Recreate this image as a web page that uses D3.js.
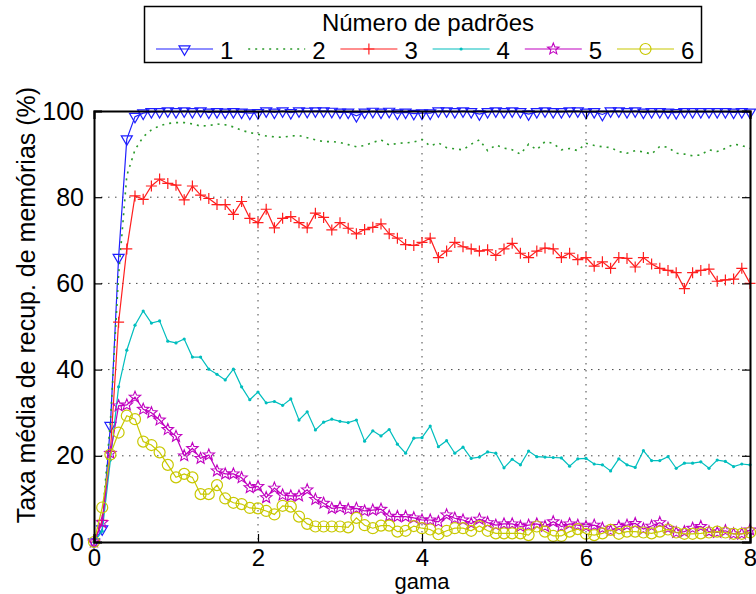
<!DOCTYPE html>
<html>
<head>
<meta charset="utf-8">
<title>Taxa média de recuperação</title>
<script src="https://d3js.org/d3.v7.min.js"></script>
<style>
  body { margin: 0; background: #fff; }
  svg text { font-family: "Liberation Sans", Arial, sans-serif; fill: #000; }
</style>
</head>
<body>
<svg id="chart" width="756" height="594"></svg>
<script>
// gama: 0 to 8 in steps of 0.1
var gama = d3.range(81).map(function(i) { return Math.round(i) / 10; });

var padroes1 = [0, 3, 27, 66, 93.5, 98.7, 99.5, 99.8, 99.8, 100, 99.8, 100, 99.8, 100, 99.7, 99.8, 99.7, 99.8, 99.7, 99.5,
  99.6, 100, 99.7, 100, 99.6, 100, 99.9, 100, 100, 99.9, 99.7, 99.7, 98.9, 99.7, 99.9, 99.7, 99.9, 99.5, 99.7, 99.4,
  99.5, 99.5, 100, 100, 99.8, 100, 99.8, 99.3, 99.8, 100, 99.8, 100, 99.8, 99.3, 99.8, 100, 99.8, 99.8, 100, 100,
  99.7, 99.8, 99.2, 100, 100, 99.8, 100, 99.7, 99.8, 99.8, 99.7, 99.6, 99.8, 99.8, 99.8, 99.8, 99.8, 99.8, 99.7, 99.8, 99.7];
var padroes2 = [0, 5, 28, 62, 85, 91, 94, 95.6, 96.6, 97.1, 97.3, 97.3, 97, 96.5, 96.6, 97, 96.8, 96.3, 95.5, 95,
  94.6, 94.2, 94, 93.9, 94.2, 94.3, 93.8, 93.3, 92.9, 92.9, 92.7, 92.2, 91.7, 92, 92.7, 93.3, 92.1, 92.5, 92.6, 92.8,
  93.4, 91.9, 92.6, 91.5, 91.2, 91, 92.3, 93.3, 90.8, 92.1, 91.4, 91, 90, 92.3, 91, 92.9, 92.5, 91, 91.3, 90.8,
  92.5, 92, 91.7, 91.5, 90.6, 90.2, 90.8, 90.5, 90, 91.8, 91.6, 90.2, 90, 89.6, 89.8, 91, 90.6, 91.3, 92.3, 92, 91.3];
var padroes3 = [0, 5, 21, 51, 68, 80.3, 79.5, 82.6, 84.2, 83.2, 82.8, 79.4, 82.6, 80.5, 79.7, 78.3, 78.3, 76, 79, 75.1,
  74.1, 77.2, 72.9, 75.1, 75.5, 74.1, 72.9, 76.3, 75.3, 72.4, 74.1, 72.8, 71.5, 72.5, 73, 73.8, 71.5, 70.5, 69, 68.8,
  69.5, 70.5, 66, 67.5, 69.5, 68.5, 68, 67.5, 67.8, 66.5, 68, 69.3, 67, 66, 67.5, 68.2, 68, 66, 67, 65.5,
  66, 64, 65, 63.5, 66, 65.8, 63.8, 66, 64.5, 63.5, 63, 62.5, 58.8, 62.5, 63, 63.3, 60.5, 60.8, 61, 63.5, 60];
var padroes4 = [0, 2.5, 19, 36, 44.5, 50.3, 53.6, 50.8, 51.3, 46.6, 46.2, 47.1, 42.9, 42.9, 40.1, 38.9, 37.6, 40.1, 36, 33,
  34.8, 32.3, 32.6, 31.7, 33.2, 28.3, 30.2, 26, 27.8, 28.5, 28, 27.7, 28.3, 23.4, 25.8, 24.6, 26.1, 22.7, 20.6, 24.1,
  24.2, 26.9, 22.1, 23.5, 20.6, 22, 19.4, 19.7, 20.9, 20.6, 17.2, 19.2, 17.9, 21.1, 19.8, 19.7, 19.6, 19.5, 17.6, 19.3,
  19.4, 18.1, 17.9, 16.5, 19.3, 17.9, 17.3, 21.2, 18.9, 18.9, 19.8, 17.1, 18.3, 18.3, 18.6, 17.1, 19, 18.7, 17.5, 18.1, 17.9];
var padroes5 = [0, 4.5, 20.6, 31.6, 31.8, 33.6, 30.8, 30, 28.3, 26.1, 24.5, 20, 21.7, 19.4, 20.2, 16.5, 15.8, 15.8, 14.9, 12.6,
  12.9, 10.3, 12.5, 10.9, 10.7, 10.7, 12.1, 9.9, 9, 7.8, 8, 7.6, 7.8, 7.2, 7.4, 7.6, 6, 5.9, 5.9, 5.6,
  5.1, 5.1, 4.7, 6.3, 5.5, 5.1, 4.3, 5.3, 4.5, 3.9, 4.2, 4.2, 3.6, 3.9, 4.2, 3.6, 4.7, 3.6, 4.2, 3.9,
  3.6, 3.9, 3.2, 2.6, 3.6, 3.9, 4.3, 3, 3.7, 4.5, 3.2, 2.2, 2.4, 3.2, 3.6, 2.4, 2.2, 2.6, 1.9, 1.9, 2.8];
var padroes6 = [0, 8, 20.3, 25.4, 29.3, 28.5, 23.3, 22.5, 20.8, 17.9, 15, 15.8, 15, 11.1, 11.1, 13.2, 10.1, 9.1, 8.8, 7.9,
  7.8, 7.2, 6.4, 8.4, 8.2, 5.9, 4.2, 3.6, 3.6, 3.6, 3.6, 3.4, 5.6, 3.9, 3.2, 3.8, 3.8, 2.4, 2.6, 3.7,
  3.2, 2.9, 1.8, 2.6, 3.2, 3.2, 2.6, 3.7, 2.6, 2, 2, 2, 2, 1.6, 3.6, 2.4, 1.4, 1.4, 2.4, 3,
  1.9, 1.6, 2, 2.8, 1.9, 2.4, 2.4, 2.2, 2, 2.4, 2.9, 2.2, 1.9, 1.9, 2, 2.2, 2.4, 2.2, 1.9, 1.9, 2.2];

var legendLabels = ["1", "2", "3", "4", "5", "6"];
var xTicks = [0, 2, 4, 6, 8];
var yTicks = [0, 20, 40, 60, 80, 100];

var series = [
  { name: "1", values: padroes1, color: "#1f1fff", marker: "tri", dash: null },
  { name: "2", values: padroes2, color: "#2a9a2a", marker: null, dash: "2,5" },
  { name: "3", values: padroes3, color: "#ff1f1f", marker: "plus", dash: null },
  { name: "4", values: padroes4, color: "#00bebe", marker: "dot", dash: null },
  { name: "5", values: padroes5, color: "#c000c0", marker: "star", dash: null },
  { name: "6", values: padroes6, color: "#c8c800", marker: "circle", dash: null }
];

var svg = d3.select("#chart"),
  margin = {top: 111, right: 6, bottom: 52, left: 94},
  width = +svg.attr("width") - margin.left - margin.right,
  height = +svg.attr("height") - margin.top - margin.bottom;

var x = d3.scaleLinear().domain([0, 8]).range([0, width]);
var y = d3.scaleLinear().domain([0, 100]).range([height, 0]);

var g = svg.append("g")
  .attr("transform", "translate(" + margin.left + "," + margin.top + ")");

// dotted grid
g.selectAll(".vgrid").data(xTicks.slice(1, -1)).enter().append("line")
  .attr("x1", function(d) { return x(d); }).attr("x2", function(d) { return x(d); })
  .attr("y1", 0).attr("y2", height)
  .attr("stroke", "#444").attr("stroke-width", 1).attr("stroke-dasharray", "1.5,5.5");
g.selectAll(".hgrid").data(yTicks.slice(1, -1)).enter().append("line")
  .attr("y1", function(d) { return y(d); }).attr("y2", function(d) { return y(d); })
  .attr("x1", 0).attr("x2", width)
  .attr("stroke", "#444").attr("stroke-width", 1).attr("stroke-dasharray", "1.5,5.5");

function starPath(r1, r2) {
  var pts = [];
  for (var i = 0; i < 10; i++) {
    var a = -Math.PI / 2 + i * Math.PI / 5;
    var r = i % 2 === 0 ? r1 : r2;
    pts.push([r * Math.cos(a), r * Math.sin(a)]);
  }
  return "M" + pts.join("L") + "Z";
}

function drawMarker(sel, type, color) {
  if (type === "tri") {
    sel.append("path").attr("d", "M-5.5,-3.2L5.5,-3.2L0,6.3Z")
      .attr("fill", "none").attr("stroke", color).attr("stroke-width", 1.2);
  } else if (type === "plus") {
    sel.append("path").attr("d", "M-5.5,0H5.5M0,-5.5V5.5")
      .attr("stroke", color).attr("stroke-width", 1.2);
  } else if (type === "dot") {
    sel.append("circle").attr("r", 1.6).attr("fill", color);
  } else if (type === "star") {
    sel.append("path").attr("d", starPath(6, 2.6))
      .attr("fill", "none").attr("stroke", color).attr("stroke-width", 1.1);
  } else if (type === "circle") {
    sel.append("circle").attr("r", 5.5)
      .attr("fill", "none").attr("stroke", color).attr("stroke-width", 1.2);
  }
}

var line = d3.line()
  .x(function(d, i) { return x(gama[i]); })
  .y(function(d) { return y(d); });

series.forEach(function(s) {
  g.append("path")
    .datum(s.values)
    .attr("fill", "none")
    .attr("stroke", s.color)
    .attr("stroke-width", s.dash ? 1.6 : 1.2)
    .attr("stroke-dasharray", s.dash)
    .attr("d", line);

  if (s.marker) {
    g.selectAll(null).data(s.values).enter().append("g")
      .attr("transform", function(d, i) { return "translate(" + x(gama[i]) + "," + y(d) + ")"; })
      .each(function() { drawMarker(d3.select(this), s.marker, s.color); });
  }
});

// axes (inward ticks, box on)
var fontSize = "25px";
var xAxis = g.append("g")
  .attr("transform", "translate(0," + height + ")")
  .call(d3.axisBottom(x).tickValues(xTicks).tickSize(-8).tickPadding(7).tickFormat(d3.format("d")));
var yAxis = g.append("g")
  .call(d3.axisLeft(y).tickValues(yTicks).tickSize(-8).tickPadding(10).tickFormat(d3.format("d")));
g.append("g")
  .call(d3.axisTop(x).tickValues(xTicks).tickSize(-8).tickFormat(""));
g.append("g")
  .attr("transform", "translate(" + width + ",0)")
  .call(d3.axisRight(y).tickValues(yTicks).tickSize(-8).tickFormat(""));

g.selectAll(".domain").attr("stroke", "#000").attr("stroke-width", 2);
g.selectAll(".tick line").attr("stroke", "#000").attr("stroke-width", 1.2);
g.selectAll(".tick text").style("font-size", fontSize).style("font-family", "Liberation Sans, Arial, sans-serif");
xAxis.selectAll(".tick text").style("font-size", "24px");

// axis labels
svg.append("text")
  .attr("x", margin.left + width / 2)
  .attr("y", 589)
  .attr("text-anchor", "middle")
  .style("font-size", "22px")
  .text("gama");

svg.append("text")
  .attr("transform", "translate(35," + 305 + ") rotate(-90)")
  .attr("text-anchor", "middle")
  .style("font-size", fontSize)
  .text("Taxa média de recup. de memórias (%)");

// legend
var legend = svg.append("g");
legend.append("rect")
  .attr("x", 144.5).attr("y", 6.5).attr("width", 557).attr("height", 56)
  .attr("fill", "#fff").attr("stroke", "#000").attr("stroke-width", 1.5);
legend.append("text")
  .attr("x", 428).attr("y", 31)
  .attr("text-anchor", "middle")
  .style("font-size", "24px")
  .text("Número de padrões");

series.forEach(function(s, i) {
  var x0 = 156 + i * 92.2;
  legend.append("line")
    .attr("x1", x0).attr("x2", x0 + 57)
    .attr("y1", 49).attr("y2", 49)
    .attr("stroke", s.color)
    .attr("stroke-width", s.dash ? 1.6 : 1.2)
    .attr("stroke-dasharray", s.dash);
  if (s.marker) {
    var m = legend.append("g").attr("transform", "translate(" + (x0 + 28.5) + ",49)");
    drawMarker(m, s.marker, s.color);
  }
  legend.append("text")
    .attr("x", x0 + 64).attr("y", 59)
    .style("font-size", "24px")
    .text(legendLabels[i]);
});
</script>
</body>
</html>
